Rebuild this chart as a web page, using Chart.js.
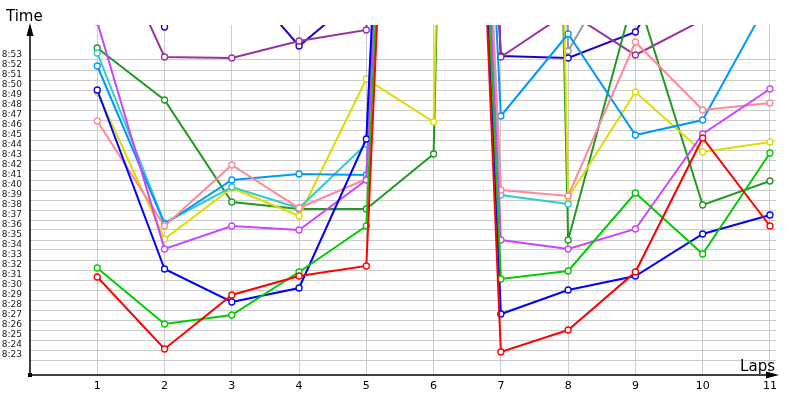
<!DOCTYPE html>
<html>
<head>
<meta charset="utf-8">
<script src="https://cdn.jsdelivr.net/npm/chart.js@4/dist/chart.umd.min.js"></script>
<style>
  html, body { margin: 0; padding: 0; background: #fff; }
  #wrap { width: 800px; height: 400px; }
</style>
</head>
<body>
<div id="wrap"><canvas id="grafico"></canvas></div>
<script>
// tempos por volta em segundos (8:23 = 503)
const laps = [1, 2, 3, 4, 5, 6, 7, 8, 9, 10, 11];
const yTicks = [503, 504, 505, 506, 507, 508, 509, 510, 511, 512, 513, 514, 515, 516, 517, 518,
                519, 520, 521, 522, 523, 524, 525, 526, 527, 528, 529, 530, 531, 532, 533];

const red       = [511.3, 504.1, 509.5, 511.4, 512.4, 665, 503.8, 506.0, 511.8, 525.2, 516.4];
const green     = [512.2, 506.6, 507.5, 511.8, 516.4, 664, 511.1, 511.9, 519.7, 513.6, 523.7];
const blue      = [530.0, 512.1, 508.8, 510.2, 525.1, 666, 507.6, 510.0, 511.4, 515.6, 517.5];
const magenta   = [536.8, 514.1, 516.4, 516.0, 521.0, 664, 515.0, 514.1, 516.1, 525.6, 530.1];
const pink      = [526.9, 516.4, 522.5, 518.2, 521.1, 665, 520.0, 519.4, 534.8, 528.0, 528.7];
const skyBlue   = [532.4, 516.6, 521.0, 521.6, 521.5, 664, 527.4, 535.6, 525.5, 527.0, 539.2];
const turquoise = [533.7, 516.7, 520.3, 518.2, 524.6, 664, 519.5, 518.6, null, null, null];
const yellow    = [529.8, 515.1, 520.2, 517.4, 531.1, 526.8, 820, 519.2, 529.8, 523.8, 524.8];
const darkGreen = [534.2, 529.0, 518.8, 518.1, 518.1, 523.6, 820, 515.0, 540.0, 518.5, 520.9];
const purple    = [548, 533.3, 533.2, 534.9, 536.0, 668, 533.3, 537.8, 533.5, 537.0, 540];
const navy      = [null, 536.3, 542.2, 534.4, 540.0, 670, 533.4, 533.2, 535.8, 547, 545];
const gray      = [548, 546, 550, 547, 549, 552, 820, 533.9, 545.5, 548, 547];

const series = [
    { data: red, color: "#ff0000" },
    { data: green, color: "#00cc00" },
    { data: blue, color: "#0000ff" },
    { data: magenta, color: "#cc44ff" },
    { data: pink, color: "#ff8899" },
    { data: skyBlue, color: "#0099ff" },
    { data: turquoise, color: "#33cccc" },
    { data: yellow, color: "#dddd00" },
    { data: darkGreen, color: "#229922" },
    { data: purple, color: "#993399" },
    { data: navy, color: "#2200cc" },
    { data: gray, color: "#999999" }
];

function fmtTempo(v) {
    const m = Math.floor(v / 60);
    const s = Math.round(v - m * 60);
    return m + ":" + (s < 10 ? "0" + s : s);
}

// eixos com setas e titulos
const eixos = {
    id: "eixos",
    afterDraw(chart) {
        const ctx = chart.ctx;
        const a = chart.chartArea;
        const x0 = a.left, y0 = a.bottom;
        ctx.save();
        ctx.strokeStyle = "#000";
        ctx.fillStyle = "#000";
        ctx.lineWidth = 1.5;
        ctx.beginPath();
        ctx.moveTo(x0, y0);
        ctx.lineTo(x0, 26);
        ctx.moveTo(x0, y0);
        ctx.lineTo(776, y0);
        ctx.stroke();
        // seta vertical
        ctx.beginPath();
        ctx.moveTo(x0, 23);
        ctx.lineTo(x0 - 3.5, 36);
        ctx.lineTo(x0 + 3.5, 36);
        ctx.closePath();
        ctx.fill();
        // seta horizontal
        ctx.beginPath();
        ctx.moveTo(779, y0);
        ctx.lineTo(766, y0 - 3.5);
        ctx.lineTo(766, y0 + 3.5);
        ctx.closePath();
        ctx.fill();
        ctx.fillRect(x0 - 2, y0 - 2, 4, 4);
        ctx.font = "15px 'DejaVu Sans'";
        ctx.textBaseline = "alphabetic";
        ctx.textAlign = "left";
        ctx.fillText("Time", 6, 21);
        ctx.textAlign = "right";
        ctx.fillText("Laps", 775, 371);
        ctx.restore();
    }
};

const ctx = document.getElementById("grafico").getContext("2d");
new Chart(ctx, {
    type: "line",
    data: {
        datasets: series.map((s) => ({
            data: s.data.map((v, i) => ({ x: laps[i], y: v })),
            borderColor: s.color,
            backgroundColor: "#ffffff",
            pointBorderColor: s.color,
            pointBackgroundColor: "#ffffff",
            borderWidth: 2,
            pointRadius: 3,
            pointBorderWidth: 1.3,
            tension: 0,
            spanGaps: false,
            clip: 0
        }))
    },
    options: {
        responsive: true,
        maintainAspectRatio: false,
        animation: false,
        layout: { padding: { top: 25, right: 24, bottom: 0, left: 0 } },
        plugins: {
            legend: { display: false },
            tooltip: { enabled: false }
        },
        scales: {
            x: {
                type: "linear",
                min: 0,
                max: 11.09,
                afterBuildTicks: (s) => { s.ticks = laps.map((v) => ({ value: v })); },
                afterFit: (s) => { s.height = 25; },
                border: { display: false },
                grid: { color: "#cccccc", drawTicks: false },
                ticks: {
                    padding: 5,
                    autoSkip: false,
                    color: "#000",
                    font: { family: "DejaVu Sans", size: 11 },
                    maxRotation: 0,
                    callback: (v) => v
                }
            },
            y: {
                type: "linear",
                min: 501.5,
                max: 536.5,
                afterBuildTicks: (s) => { s.ticks = yTicks.map((v) => ({ value: v })); },
                afterFit: (s) => { s.width = 30; },
                border: { display: false },
                grid: { color: "#cccccc", drawTicks: false },
                ticks: {
                    padding: 8,
                    labelOffset: -5,
                    autoSkip: false,
                    color: "#222",
                    font: { family: "DejaVu Sans", size: 9 },
                    callback: (v) => fmtTempo(v)
                }
            }
        }
    },
    plugins: [eixos]
});
</script>
</body>
</html>
